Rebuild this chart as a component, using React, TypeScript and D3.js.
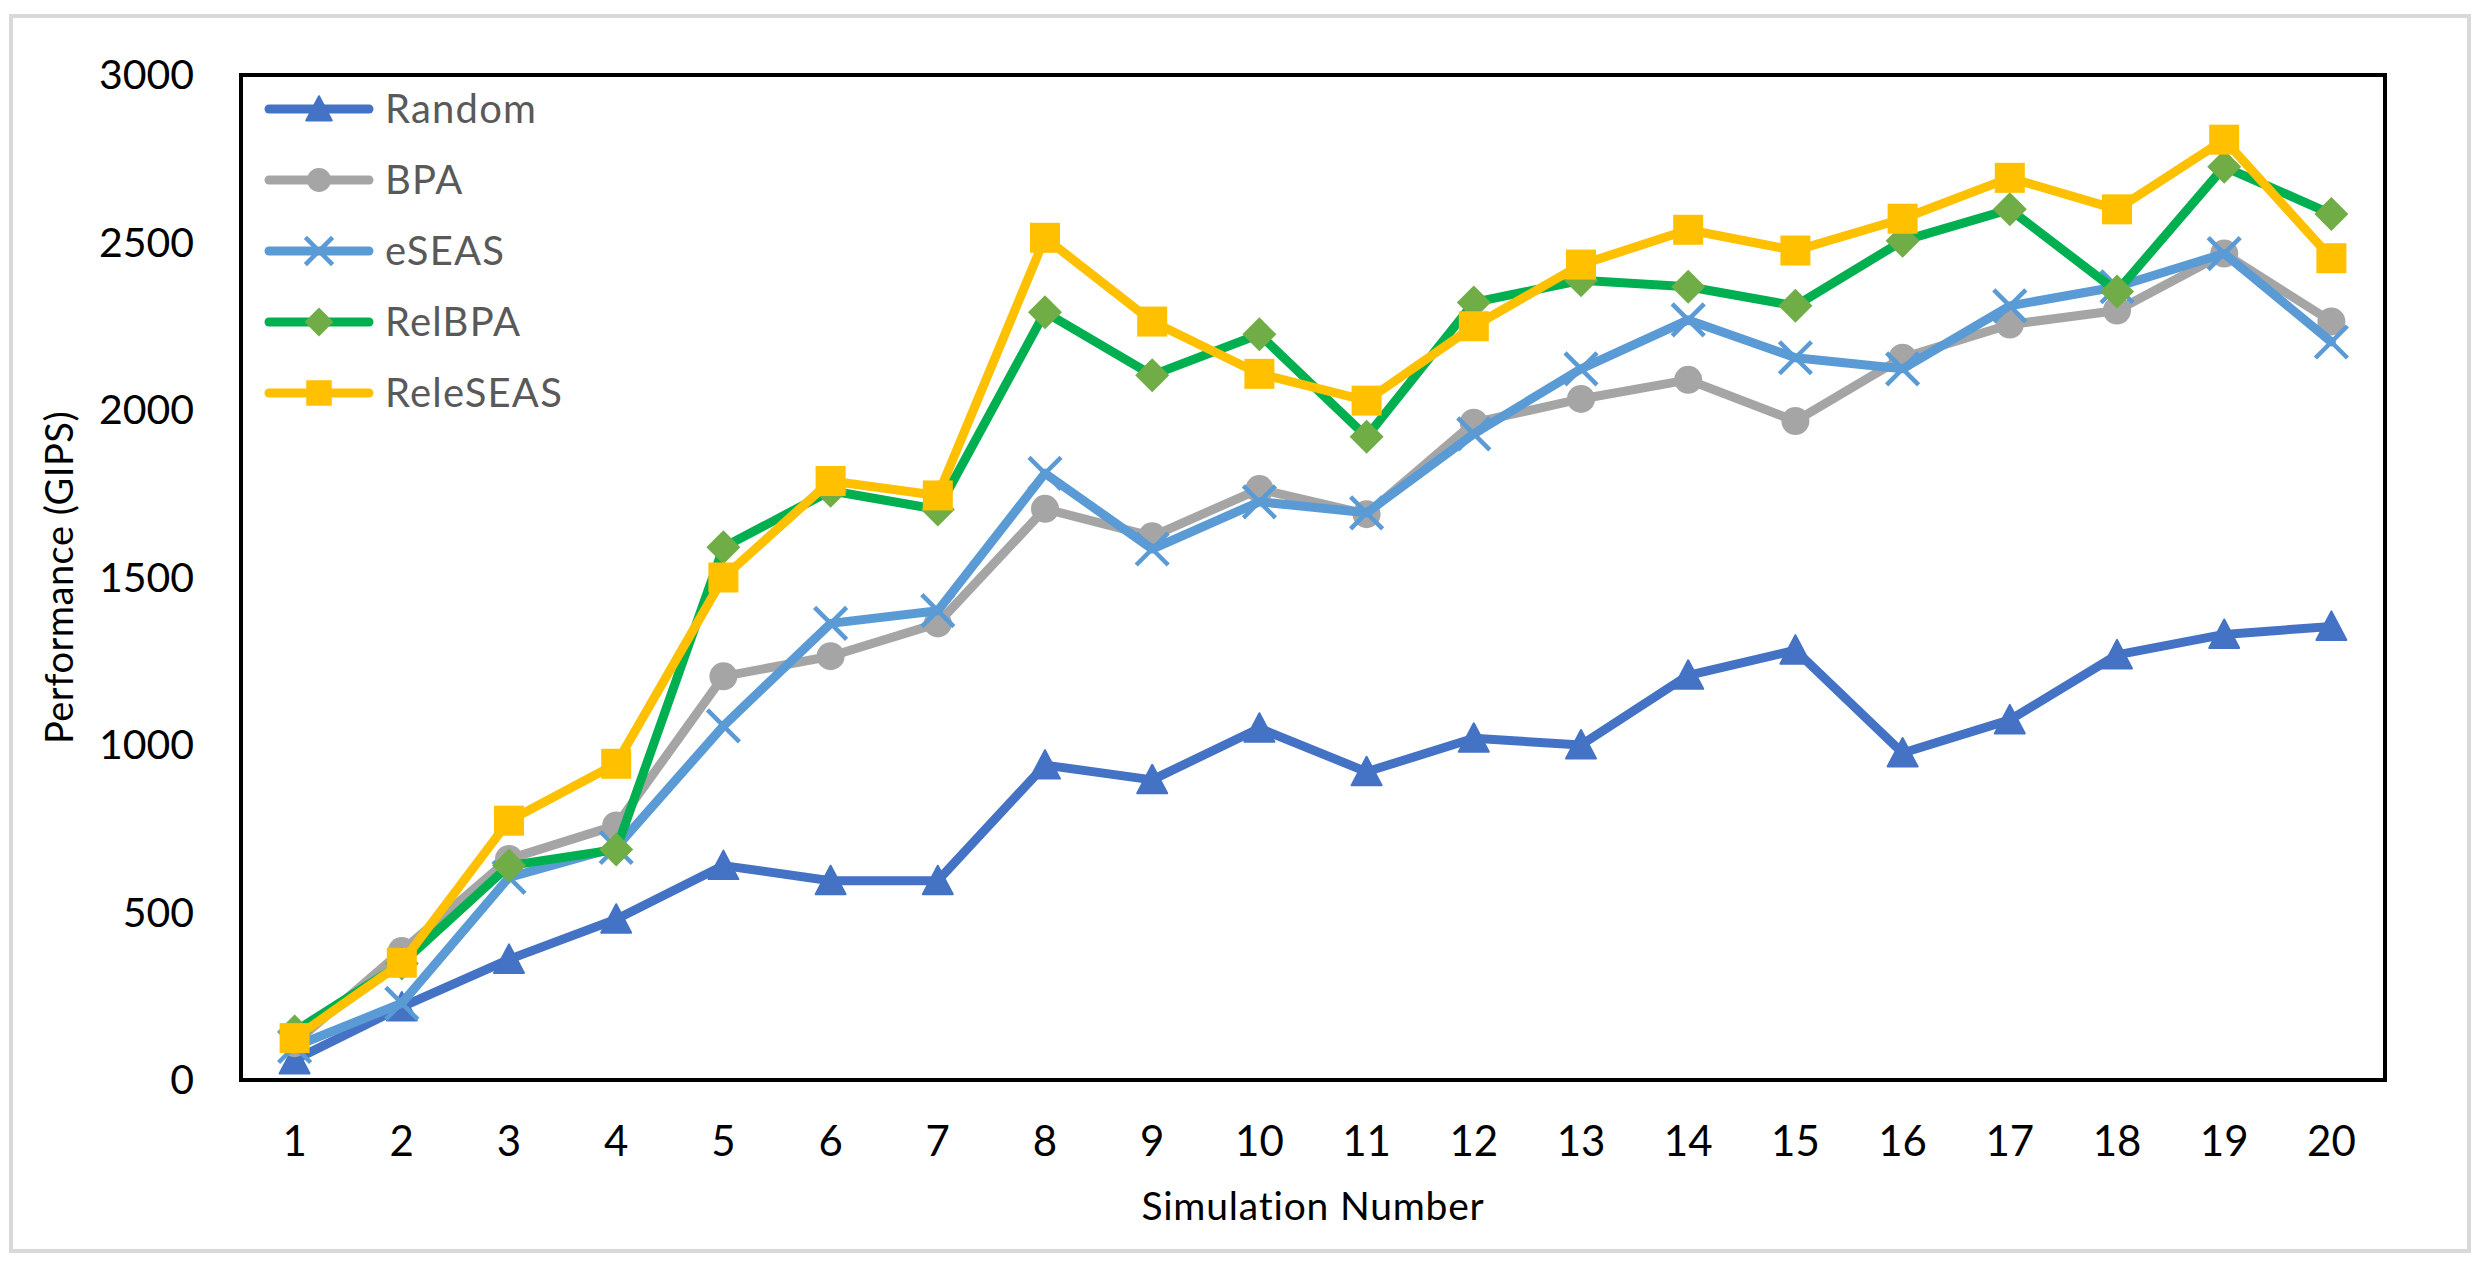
import React from "react";
import * as d3 from "d3";

const simulations = [1, 2, 3, 4, 5, 6, 7, 8, 9, 10, 11, 12, 13, 14, 15, 16, 17, 18, 19, 20];
const yTicks = [0, 500, 1000, 1500, 2000, 2500, 3000];

const randomVals = [60, 218, 360, 480, 640, 595, 595, 940, 896, 1050, 920, 1020, 1000, 1208, 1283, 976, 1075, 1269, 1330, 1354];
const bpaVals = [110, 385, 660, 760, 1205, 1265, 1363, 1705, 1623, 1764, 1689, 1962, 2033, 2090, 1967, 2156, 2255, 2297, 2467, 2264];
const eseasVals = [100, 229, 605, 694, 1057, 1363, 1401, 1811, 1585, 1726, 1693, 1929, 2123, 2269, 2156, 2123, 2311, 2368, 2467, 2203];
const relbpaVals = [145, 348, 640, 688, 1590, 1759, 1703, 2292, 2104, 2226, 1920, 2321, 2387, 2368, 2311, 2505, 2599, 2354, 2726, 2585];
const releseasVals = [125, 350, 774, 944, 1500, 1788, 1745, 2514, 2264, 2108, 2028, 2250, 2434, 2538, 2476, 2571, 2693, 2599, 2807, 2453];

const seriesNames = ["Random", "BPA", "eSEAS", "RelBPA", "ReleSEAS"];
const seriesValues = [randomVals, bpaVals, eseasVals, relbpaVals, releseasVals];
const lineColors = ["#4472C4", "#A5A5A5", "#5B9BD5", "#00B050", "#FFC000"];
const markerColors = ["#4472C4", "#A5A5A5", "#5B9BD5", "#70AD47", "#FFC000"];
const markerTypes = ["triangle", "circle", "x", "diamond", "square"];

const W = 2482;
const H = 1272;
const plot = { left: 241, right: 2385, top: 75, bottom: 1080 };
const FONT = "Lato, 'Open Sans', sans-serif";

function Marker({ type, x, y, color, k = 1 }: { type: string; x: number; y: number; color: string; k?: number }) {
  if (type === "triangle") {
    const s = 15 * k;
    return <path d={`M${x},${y - s} L${x + s},${y + s * 0.9} L${x - s},${y + s * 0.9} Z`} fill={color} strokeLinejoin="round" stroke={color} strokeWidth={2} />;
  }
  if (type === "circle") {
    return <circle cx={x} cy={y} r={14 * k} fill={color} />;
  }
  if (type === "x") {
    const s = 16 * k;
    return (
      <g stroke={color} strokeWidth={4.5}>
        <line x1={x - s} y1={y - s} x2={x + s} y2={y + s} />
        <line x1={x - s} y1={y + s} x2={x + s} y2={y - s} />
      </g>
    );
  }
  if (type === "diamond") {
    const w = 17 * k, h = 17 * k;
    return <path d={`M${x},${y - h} L${x + w},${y} L${x},${y + h} L${x - w},${y} Z`} fill={color} />;
  }
  const s = 15 * k;
  return <rect x={x - s} y={y - s} width={2 * s} height={2 * s} fill={color} />;
}

export default function App() {
  const x = d3.scalePoint<number>().domain(simulations).range([plot.left, plot.right]).padding(0.5);
  const y = d3.scaleLinear().domain([0, 3000]).range([plot.bottom, plot.top]);
  const line = d3
    .line<number>()
    .x((_, i) => x(simulations[i]) as number)
    .y((d) => y(d));

  const legendRows = [109, 180, 251, 322, 393];

  return (
    <svg
      width={W}
      height={H}
      style={{ position: "absolute", left: 0, top: 0, background: "#fff" }}
      fontFamily={FONT}
    >
      <rect x={0} y={0} width={W} height={H} fill="#fff" />
      <rect x={11} y={16} width={2458} height={1235} fill="#fff" stroke="#D9D9D9" strokeWidth={4} />

      {/* y tick labels */}
      {yTicks.map((t) => (
        <text key={t} x={194} y={y(t) + 14} textAnchor="end" fontSize={41} fill="#000">
          {t}
        </text>
      ))}
      {/* x tick labels */}
      {simulations.map((s) => (
        <text key={s} x={x(s) as number} y={1156} textAnchor="middle" fontSize={42} fill="#000">
          {s}
        </text>
      ))}

      <text x={(plot.left + plot.right) / 2} y={1220} textAnchor="middle" fontSize={39} letterSpacing={0.8} fill="#000">
        Simulation Number
      </text>
      <text
        transform={`translate(73,${(plot.top + plot.bottom) / 2}) rotate(-90)`}
        textAnchor="middle"
        fontSize={38}
        letterSpacing={0.5}
        fill="#000"
      >
        Performance (GIPS)
      </text>

      {/* series */}
      {seriesValues.map((vals, si) => (
        <g key={seriesNames[si]}>
          <path d={line(vals) || ""} fill="none" stroke={lineColors[si]} strokeWidth={9} strokeLinejoin="round" strokeLinecap="round" />
          {vals.map((v, i) => (
            <Marker key={i} type={markerTypes[si]} x={x(simulations[i]) as number} y={y(v)} color={markerColors[si]} />
          ))}
        </g>
      ))}

      {/* plot border */}
      <rect
        x={plot.left}
        y={plot.top}
        width={plot.right - plot.left}
        height={plot.bottom - plot.top}
        fill="none"
        stroke="#000"
        strokeWidth={4}
      />

      {/* legend */}
      {seriesNames.map((name, si) => (
        <g key={name}>
          <line x1={269} x2={369} y1={legendRows[si]} y2={legendRows[si]} stroke={lineColors[si]} strokeWidth={9} strokeLinecap="round" />
          <Marker type={markerTypes[si]} x={319} y={legendRows[si]} color={markerColors[si]} k={0.85} />
          <text x={385} y={legendRows[si] + 14} fontSize={40} letterSpacing={1.2} fill="#595959">
            {name}
          </text>
        </g>
      ))}
    </svg>
  );
}
